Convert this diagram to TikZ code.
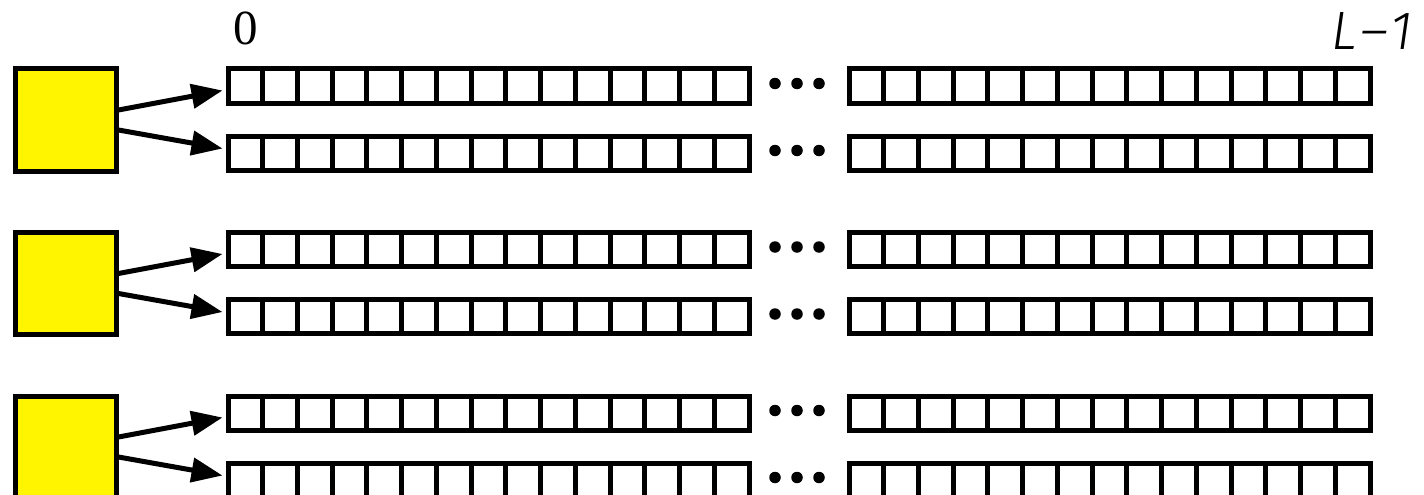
\documentclass[tikz,border=0pt]{standalone}
\usepackage{fontspec}
\newfontfamily\labelfont{Fira Sans}[UprightFont=* Light, ItalicFont=* Light Italic]
\newfontfamily\zerofont{Liberation Serif}
\usetikzlibrary{arrows.meta,calc}
\definecolor{srcyellow}{RGB}{255,245,0}
\begin{document}
\begin{tikzpicture}[x=1pt,y=-1pt,
  srcbox/.style={draw=black,fill=srcyellow,minimum width=101pt,minimum height=102pt,inner sep=0pt,anchor=north west,line width=5pt},
  segbox/.style={draw=black,fill=white,minimum width=521pt,minimum height=34pt,inner sep=0pt,anchor=north west,line width=5pt},
  divline/.style={draw=black,line width=5pt},
  dotmark/.style={circle,fill=black,minimum size=11.5pt,inner sep=0pt},
  ptr/.style={-{Triangle[length=31pt,width=24pt]},line width=5pt},
  lbl/.style={inner sep=0pt}
]
\useasboundingbox (0,0) rectangle (1424,495);
\foreach \g in {0,1,2}{
  \pgfmathsetmacro{\top}{66.5+163.5*\g}
  \node[srcbox] (s\g) at (12.5,\top) {};
  \foreach \r/\dy in {1/0,2/67}{
    \pgfmathsetmacro{\ry}{\top+\dy}
    \node[segbox] (a\g\r) at (225.5,\ry) {};
    \node[segbox] (b\g\r) at (846.5,\ry) {};
    \foreach \k in {1,...,14}{
      \draw[divline] ($(a\g\r.north west)+(2.5+34.733*\k,2.5)$) -- ($(a\g\r.south west)+(2.5+34.733*\k,-2.5)$);
      \draw[divline] ($(b\g\r.north west)+(2.5+34.733*\k,2.5)$) -- ($(b\g\r.south west)+(2.5+34.733*\k,-2.5)$);
    }
    \foreach \dx [count=\i] in {775,797,819}{
      \node[dotmark] (d\g\r\i) at (\dx,\ry+17) {};
    }
  }
  \draw[ptr] ($(s\g.east)+(0,-10)$) -- ($(a\g1.west)+(-3,4.5)$);
  \draw[ptr] ($(s\g.east)+(0,10)$) -- ($(a\g2.west)+(-3,-4.5)$);
}
\node[lbl,font=\zerofont\fontsize{49}{58}\selectfont] (zero) at (245.5,28) {0};
\node[lbl,font=\labelfont\itshape\fontsize{54}{64}\selectfont] (last) at (1372,31) {L\kern3pt–\kern2pt1};
\end{tikzpicture}
\end{document}
